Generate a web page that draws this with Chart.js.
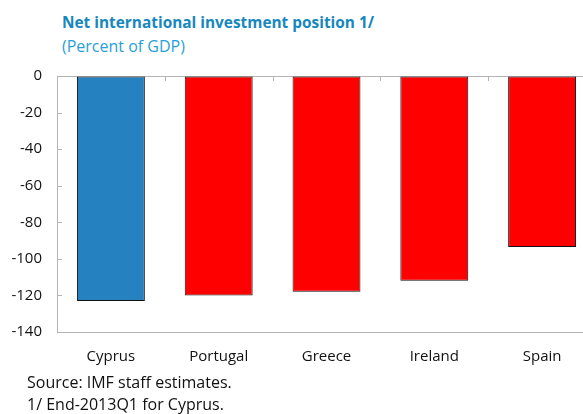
<!DOCTYPE html>
<html>
<head>
<meta charset="utf-8">
<script src="https://cdn.jsdelivr.net/npm/chart.js@4"></script>
<style>
  html, body { margin: 0; padding: 0; background: #fff; overflow: hidden; }
  body { width: 583px; height: 414px; position: relative; font-family: "Open Sans", sans-serif; }
  .t { position: absolute; white-space: nowrap; }
  #title { left: 62px; top: 12px; font-size: 15.4px; font-weight: bold; color: #1788bd; }
  #sub { left: 62px; top: 35px; font-size: 16px; color: #2a9fd6; }
  #src { left: 27px; top: 371px; font-size: 16px; color: #111; }
  #note { left: 27px; top: 393px; font-size: 16px; color: #111; }
  #wrap { position: absolute; left: 0; top: 52px; width: 596px; height: 335px; }
</style>
</head>
<body>
<div class="t" id="title">Net international investment position 1/</div>
<div class="t" id="sub">(Percent of GDP)</div>
<div id="wrap"><canvas id="nipChart"></canvas></div>
<div class="t" id="src">Source: IMF staff estimates.</div>
<div class="t" id="note">1/ End-2013Q1 for Cyprus.</div>
<script>
const countries = ['Cyprus', 'Portugal', 'Greece', 'Ireland', 'Spain'];
const nipValues = [-123, -120, -118, -112, -93.5];
const barColors = ['#2681c1', '#ff0000', '#ff0000', '#ff0000', '#ff0000'];
const yTicks = [0, -20, -40, -60, -80, -100, -120, -140];

const axisGray = '#b4b4b4';

// short tick marks pointing into the plot, like the original
const innerTicks = {
  id: 'innerTicks',
  afterDraw(chart) {
    const ctx = chart.ctx;
    const x = chart.scales.x, y = chart.scales.y;
    const area = chart.chartArea;
    ctx.save();
    ctx.strokeStyle = axisGray;
    ctx.lineWidth = 1;
    ctx.beginPath();
    yTicks.forEach(v => {
      const py = Math.round(y.getPixelForValue(v)) + 0.5;
      ctx.moveTo(area.left, py);
      ctx.lineTo(area.left + 5, py);
    });
    for (let i = 1; i < countries.length; i++) {
      const px = Math.round((x.getPixelForValue(i - 1) + x.getPixelForValue(i)) / 2) + 0.5;
      ctx.moveTo(px, area.top);
      ctx.lineTo(px, area.top + 5);
    }
    ctx.stroke();
    ctx.restore();
  }
};

new Chart(document.getElementById('nipChart'), {
  type: 'bar',
  data: {
    labels: countries,
    datasets: [{
      data: nipValues,
      backgroundColor: barColors,
      borderColor: '#111',
      borderWidth: 1,
      borderSkipped: false,
      barPercentage: 0.63,
      categoryPercentage: 1
    }]
  },
  options: {
    responsive: true,
    maintainAspectRatio: false,
    animation: false,
    layout: { padding: 0 },
    plugins: {
      legend: { display: false },
      tooltip: { enabled: false }
    },
    scales: {
      x: {
        grid: { display: false },
        border: { display: true, color: axisGray, width: 1 },
        ticks: {
          padding: 8,
          maxRotation: 0,
          color: '#111',
          font: { family: 'Open Sans', size: 15 }
        },
        afterFit(scale) { scale.height = 55; }
      },
      y: {
        min: -140,
        max: 0,
        ticks: {
          stepSize: 20,
          padding: 15,
          color: '#111',
          font: { family: 'Open Sans', size: 15 }
        },
        grid: {
          drawTicks: false,
          color: ctx => ctx.tick && ctx.tick.value === 0 ? axisGray : 'rgba(0,0,0,0)'
        },
        border: { display: true, color: axisGray, width: 1 },
        afterFit(scale) { scale.width = 57; }
      }
    }
  },
  plugins: [innerTicks]
});
</script>
</body>
</html>
